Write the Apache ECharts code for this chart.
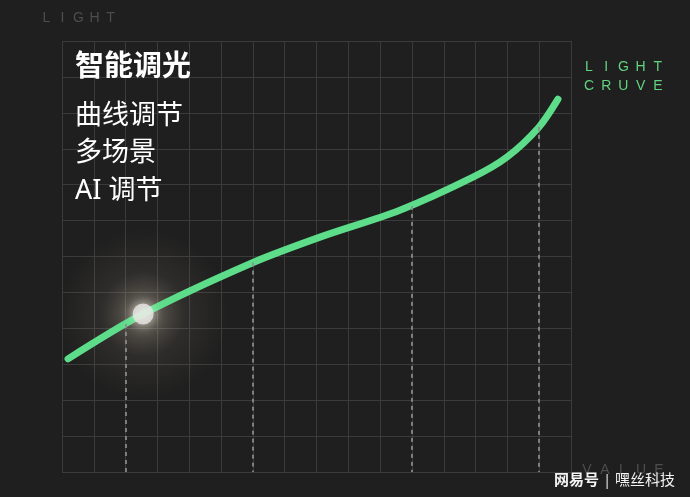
<!DOCTYPE html>
<html>
<head>
<meta charset="utf-8">
<script src="https://cdn.jsdelivr.net/npm/echarts@6/dist/echarts.min.js"></script>
<style>
html,body{margin:0;padding:0;background:#1f1f1f;}
#chart{width:690px;height:497px;}
</style>
</head>
<body>
<div id="chart"></div>
<script>
// Curve samples (x in grid columns 0..16, y in grid rows 0..12)
var curveX = [0.19, 2.55, 5.97, 8.11, 10.62, 12.92, 13.99, 14.99, 15.59];
var curveY = [3.15, 4.40, 5.82, 6.54, 7.29, 8.21, 8.77, 9.60, 10.38];
// Dashed drop lines from the curve to the baseline
var dropX = [2, 6, 11, 15];
var dropY = [4.12, 5.83, 7.41, 9.61];
// Highlighted glowing point
var glowX = [2.55];
var glowY = [4.40];
// Texts
var titleText = '智能调光';
var bulletLines = ['曲线调节', '多场景', 'AI 调节'];
var topLeftLabel = 'LIGHT';
var curveLabel = ['LIGHT', 'CRUVE'];
var xAxisLabel = 'VALUE';
var watermark = ['网易号', '嘿丝科技'];

var chart = echarts.init(document.getElementById('chart'));

var curveData = curveX.map(function (x, i) { return [x, curveY[i]]; });
var glowData = glowX.map(function (x, i) { return [x, glowY[i]]; });
var dropLines = dropX.map(function (x, i) {
  return [{ coord: [x, dropY[i]] }, { coord: [x, 0] }];
});

function spaced(text, cx0, y, pitch, style) {
  return text.split('').map(function (ch, i) {
    return {
      type: 'text', x: cx0 + pitch * i, y: y,
      style: Object.assign({ text: ch, textAlign: 'center', textVerticalAlign: 'middle' }, style)
    };
  });
}

var cjk = '"Noto Sans", "Noto Sans CJK SC", sans-serif';
var latin = '"Liberation Sans", Arial, sans-serif';
var grey = { fill: '#4d4d4d', fontSize: 14, fontFamily: latin };
var green = { fill: '#62d37f', fontSize: 14, fontFamily: latin };

var graphics = [];
graphics = graphics.concat(spaced(topLeftLabel, 46.5, 18.5, 16, grey));
graphics = graphics.concat(spaced(curveLabel[0], 589, 67, 17.2, green));
graphics = graphics.concat(spaced(curveLabel[1], 589, 86.5, 17.2, green));
graphics = graphics.concat(spaced(xAxisLabel, 587, 470, 18, grey));
graphics.push({
  type: 'text', x: 75, y: 67.5, z: 100,
  style: { text: titleText, fill: '#ffffff', lineWidth: 0, fontSize: 29, fontWeight: 'bold', fontFamily: cjk, textVerticalAlign: 'middle' }
});
bulletLines.forEach(function (t, i) {
  graphics.push({
    type: 'text', x: 75, y: 116 + i * 37.5, z: 100,
    style: { text: t, fill: '#ffffff', lineWidth: 0, fontSize: 27, fontWeight: 'normal', fontFamily: cjk, textVerticalAlign: 'middle' }
  });
});
graphics.push({
  type: 'text', x: 554, y: 481, z: 100,
  style: {
    text: '{a|' + watermark[0] + '}{b| | }{c|' + watermark[1] + '}',
    textVerticalAlign: 'middle',
    rich: {
      a: { fill: '#f4f4f4', fontSize: 15, fontWeight: 'bold', fontFamily: cjk },
      b: { fill: '#dddddd', fontSize: 15, fontFamily: cjk },
      c: { fill: '#f4f4f4', fontSize: 15, fontFamily: cjk }
    }
  }
});

var option = {
  backgroundColor: '#1f1f1f',
  animation: false,
  grid: { left: 62, right: 119, top: 41, bottom: 25 },
  xAxis: {
    type: 'value', min: 0, max: 16, interval: 1,
    axisLine: { show: false }, axisTick: { show: false }, axisLabel: { show: false },
    splitLine: { show: true, lineStyle: { color: '#3b3b3b', width: 1 } }
  },
  yAxis: {
    type: 'value', min: 0, max: 12, interval: 1,
    axisLine: { show: false }, axisTick: { show: false }, axisLabel: { show: false },
    splitLine: { show: true, lineStyle: { color: '#3b3b3b', width: 1 } }
  },
  graphic: graphics,
  series: [
    {
      type: 'line', data: [], z: 1, silent: true,
      markLine: {
        silent: true, symbol: 'none', label: { show: false },
        lineStyle: { color: '#8e8e8e', type: [4, 4], width: 1.7 },
        data: dropLines
      }
    },
    {
      type: 'scatter', data: glowData, z: 2, silent: true,
      symbolSize: 170,
      itemStyle: {
        color: {
          type: 'radial', x: 0.5, y: 0.5, r: 0.5,
          colorStops: [
            { offset: 0, color: 'rgba(255,245,225,0.6)' },
            { offset: 0.2, color: 'rgba(235,220,195,0.33)' },
            { offset: 0.5, color: 'rgba(200,185,160,0.11)' },
            { offset: 1, color: 'rgba(200,185,160,0)' }
          ]
        }
      }
    },
    {
      type: 'line', data: curveData, z: 3, smooth: 0.3, showSymbol: false, silent: true,
      lineStyle: { color: '#5ddc8a', width: 7, cap: 'round', join: 'round' }
    },
    {
      type: 'scatter', data: glowData, z: 4, silent: true,
      symbolSize: 21,
      itemStyle: { color: '#e8e8e6', shadowBlur: 12, shadowColor: 'rgba(255,250,235,0.8)' }
    }
  ]
};
chart.setOption(option);
</script>
</body>
</html>
